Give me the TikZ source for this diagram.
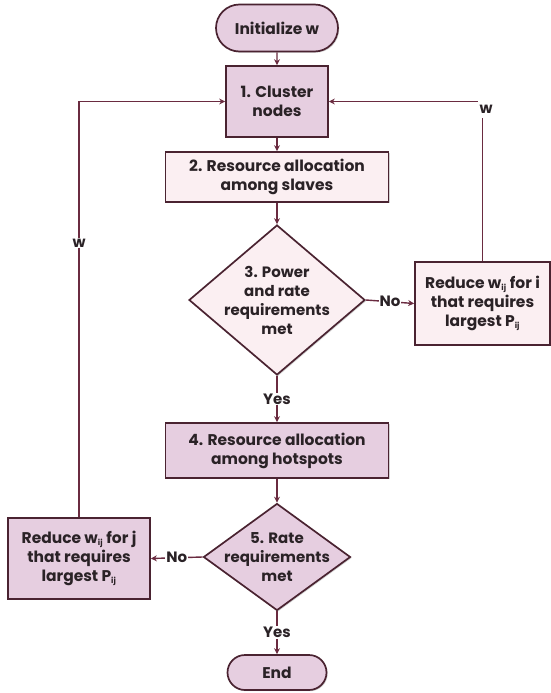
\documentclass[tikz,border=0pt]{standalone}
\usepackage{fontspec}
\setmainfont{Poppins}
\usetikzlibrary{shapes.geometric,shapes.misc,arrows.meta,shadows}
\definecolor{edge}{HTML}{4A2331}
\definecolor{wire}{HTML}{6A2B40}
\definecolor{mauve}{HTML}{E6CEE0}
\definecolor{blush}{HTML}{FBEFF2}
\definecolor{ink}{HTML}{2A2226}
\newcommand{\sub}[1]{\textsubscript{\footnotesize #1}}
\tikzset{
  base/.style={draw=edge, line width=1.7pt, text=ink, font=\bfseries\fontsize{15.5}{19}\selectfont,
    align=center, inner sep=2pt,
    drop shadow={shadow xshift=1.2pt, shadow yshift=-1.2pt, opacity=0.35, fill=gray}},
  stadium/.style={base, rounded rectangle, fill=mauve},
  boxm/.style={base, rectangle, fill=mauve},
  boxp/.style={base, rectangle, fill=blush},
  conn/.style={draw=wire, line width=1.4pt, -{Stealth[length=6pt,width=6pt]}},
  lbl/.style={fill=white, text=ink, font=\bfseries\fontsize{15}{17}\selectfont, inner sep=1pt}
}
\begin{document}
\begin{tikzpicture}[x=1pt,y=-1pt]
\useasboundingbox (0,0) rectangle (551,693);
\node[stadium, minimum width=126pt, minimum height=47pt] (init) at (277,28) {Initialize w};
\node[boxm, minimum width=102pt, minimum height=71pt] (n1) at (277,101.5) {1. Cluster\\nodes};
\node[boxp, minimum width=223pt, minimum height=50pt] (n2) at (277,177) {2. Resource allocation\\among slaves};
\node[boxp, diamond, minimum width=176pt, minimum height=150pt, inner sep=0pt] (d3) at (277,300) {};
\node[text=ink, font=\bfseries\fontsize{15}{19}\selectfont, align=center] (t3) at (d3) {3. Power\\and rate\\requirements\\met};
\node[boxp, minimum width=135pt, minimum height=83pt] (r1) at (482.5,303.5) {Reduce w\sub{ij} for i\\that requires\\largest P\sub{ij}};
\node[boxm, minimum width=223pt, minimum height=55pt] (n4) at (277,450.5) {4. Resource allocation\\among hotspots};
\node[boxm, diamond, minimum width=147pt, minimum height=107pt, inner sep=0pt] (d5) at (277,557) {};
\node[text=ink, font=\bfseries\fontsize{15}{19}\selectfont, align=center] (t5) at (d5) {5. Rate\\requirements\\met};
\node[boxm, minimum width=142pt, minimum height=81pt] (r2) at (79,558.5) {Reduce w\sub{ij} for j\\that requires\\largest P\sub{ij}};
\node[stadium, minimum width=103pt, minimum height=35pt] (end) at (277,672.5) {End};

\draw[conn] (init) -- (n1);
\draw[conn] (n1) -- (n2);
\draw[conn] (n2) -- (d3);
\draw[conn] (d3.east) -- node[lbl] {No} (r1.west);
\draw[conn] (d3.south) -- node[lbl] {Yes} (n4.north);
\draw[conn] (n4) -- (d5);
\draw[conn] (d5.west) -- node[lbl] {No} (r2.east);
\draw[conn] (d5.south) -- node[lbl] {Yes} (end.north);
\draw[conn] (r2.north) |- node[lbl, pos=0.33] {w} (n1.west);
\draw[conn] (r1.north) |- (n1.east);
\node[lbl, minimum width=16pt, minimum height=18pt] (wr) at (486,109) {w};
\end{tikzpicture}
\end{document}
